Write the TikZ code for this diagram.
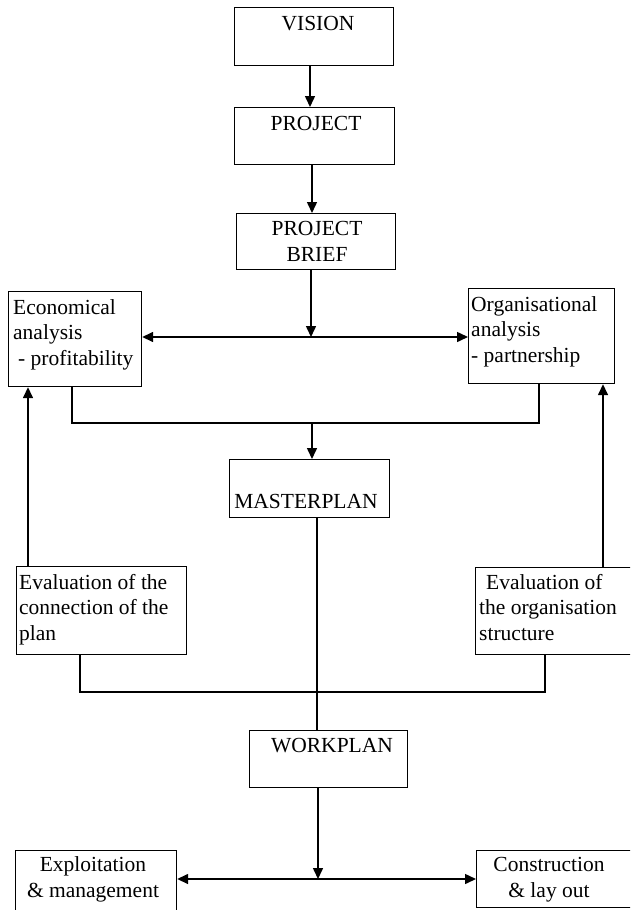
\documentclass[tikz,border=0pt]{standalone}
\usepackage{fontspec}
\setmainfont{Liberation Serif}
\usetikzlibrary{arrows.meta}
\begin{document}
\begin{tikzpicture}[x=1pt,y=-1pt,
  box/.style={draw=black, line width=1.2pt, inner sep=0pt, anchor=north west},
  lbl/.style={inner sep=0pt, font=\fontsize{21.5}{25.5}\selectfont},
  wire/.style={line width=1.5pt},
  arr/.style={wire, -{Triangle[length=11pt,width=10pt]}}]
\clip (0,0) rectangle (630,910);
\fill[white] (0,0) rectangle (630,910);

% boxes
\node[box, minimum width=159pt, minimum height=58pt] (vision) at (234,7) {};
\node[box, minimum width=160pt, minimum height=57pt] (project) at (234,107) {};
\node[box, minimum width=159pt, minimum height=56pt] (brief) at (236,213) {};
\node[box, minimum width=133pt, minimum height=95pt] (econ) at (8,291) {};
\node[box, minimum width=146pt, minimum height=95pt] (org) at (468,288) {};
\node[box, minimum width=160pt, minimum height=58pt] (master) at (229,459) {};
\node[box, minimum width=170pt, minimum height=88pt] (evall) at (16,566) {};
\node[box, minimum width=160pt, minimum height=87pt] (evalr) at (475,567) {};
\node[box, minimum width=158pt, minimum height=57pt] (work) at (249,730) {};
\node[box, minimum width=161pt, minimum height=70pt] (expl) at (15,850) {};
\node[box, minimum width=160pt, minimum height=57pt] (constr) at (476,850) {};

% labels (multi-line labels sit on the baseline of their last line)
\node[lbl, anchor=base] (visionT) at (318,30) {VISION};
\node[lbl, anchor=base] (projectT) at (316,130) {PROJECT};
\node[lbl, anchor=base, align=center] (briefT) at (317,261) {PROJECT\\BRIEF};
\node[lbl, anchor=base west, align=left] (econT) at (13,365) {Economical\\analysis\\\hspace{5pt}- profitability};
\node[lbl, anchor=base west, align=left] (orgT) at (471,362) {Organisational\\analysis\\- partnership};
\node[lbl, anchor=base] (masterT) at (306,508) {MASTERPLAN};
\node[lbl, anchor=base west, align=left] (evallT) at (19,640) {Evaluation of the\\connection of the\\plan};
\node[lbl, anchor=base west, align=left] (evalrT) at (479,640) {\hspace{7pt}Evaluation of\\the organisation\\structure};
\node[lbl, anchor=base] (workT) at (332,752) {WORKPLAN};
\node[lbl, anchor=base, align=center] (explT) at (93,897) {Exploitation\\\& management};
\node[lbl, anchor=base, align=center] (constrT) at (549,897) {Construction\\\& lay out};

% x positions of the vertical runs, y positions of the junctions
\coordinate (xa) at (310,0);
\coordinate (xb) at (312,0);
\coordinate (xc) at (311,0);
\coordinate (xe) at (72,0);
\coordinate (xo) at (539,0);
\coordinate (xm) at (317,0);
\coordinate (xl) at (80,0);
\coordinate (xr) at (545,0);
\coordinate (xlu) at (28,0);
\coordinate (xru) at (603,0);
\coordinate (xw) at (318,0);
\coordinate (j1) at (311,337);
\coordinate (m1) at (312,423);
\coordinate (m2) at (317,692);
\coordinate (j2) at (318,879);

% connectors
\draw[arr] (vision.south -| xa) -- (project.north -| xa);
\draw[arr] (project.south -| xb) -- (brief.north -| xb);
\draw[arr] (brief.south -| xc) -- (j1);
\draw[arr] (j1) -- (j1 -| econ.east);
\draw[arr] (j1) -- (j1 -| org.west);
\draw[wire] (econ.south -| xe) -- (m1 -| xe) -- (m1 -| xo) -- (org.south -| xo);
\draw[arr] (m1) -- (master.north -| m1);
\draw[wire] (master.south -| xm) -- (work.north -| xm);
\draw[wire] (evall.south -| xl) -- (m2 -| xl) -- (m2 -| xr) -- (evalr.south -| xr);
\draw[arr] (evall.north -| xlu) -- (econ.south -| xlu);
\draw[arr] (evalr.north -| xru) -- (org.south -| xru);
\draw[arr] (work.south -| xw) -- (j2);
\draw[arr] (j2) -- (j2 -| expl.east);
\draw[arr] (j2) -- (j2 -| constr.west);
\end{tikzpicture}
\end{document}
